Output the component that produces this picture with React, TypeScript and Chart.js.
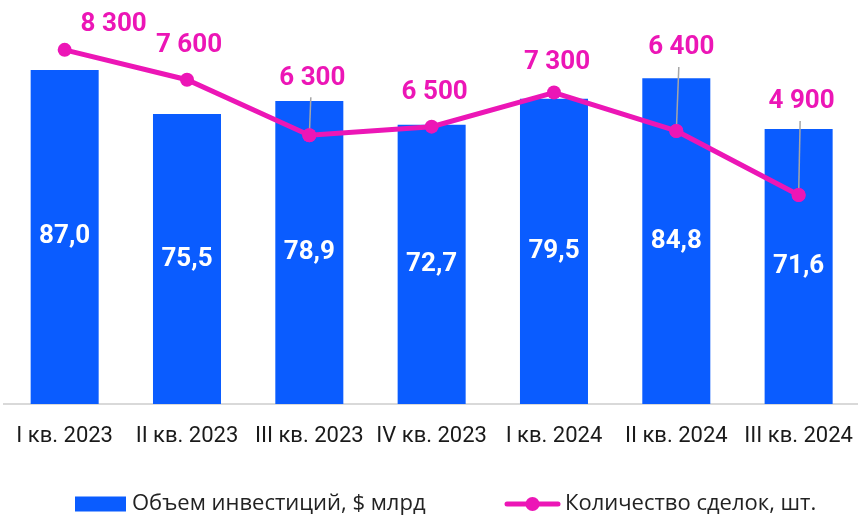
import React, { useEffect, useRef } from "react";
import { Chart, registerables } from "chart.js";

Chart.register(...registerables);

const categories = [
  "I кв. 2023",
  "II кв. 2023",
  "III кв. 2023",
  "IV кв. 2023",
  "I кв. 2024",
  "II кв. 2024",
  "III кв. 2024",
];
const investmentVolume = [87.0, 75.5, 78.9, 72.7, 79.5, 84.8, 71.6];
const dealCount = [8300, 7600, 6300, 6500, 7300, 6400, 4900];
const barLabel = "Объем инвестиций, $ млрд";
const lineLabel = "Количество сделок, шт.";

const BLUE = "#0a5cff";
const MAGENTA = "#ec16b6";
const LEADER = "#a6a6a6";

// label placement (offset from point, in px) and leader lines
const lineLabelOffsets: [number, number][] = [
  [49, -25],
  [2, -34],
  [3, -57],
  [3, -34],
  [3, -30],
  [5, -83],
  [3, -93],
];
const leaderFlags = [false, false, true, false, false, true, true];

const fmtBar = (v: number) => v.toFixed(1).replace(".", ",");
const fmtLine = (v: number) =>
  String(Math.round(v)).replace(/\B(?=(\d{3})+(?!\d))/g, " ");

const labelsPlugin = {
  id: "valueLabels",
  afterDatasetsDraw(chart: any) {
    const ctx = chart.ctx;
    ctx.save();
    const barMeta = chart.getDatasetMeta(1);
    ctx.font = "bold 26px Roboto";
    ctx.fillStyle = "#ffffff";
    ctx.textAlign = "center";
    ctx.textBaseline = "middle";
    barMeta.data.forEach((el: any, i: number) => {
      const v = chart.data.datasets[1].data[i];
      ctx.fillText(fmtBar(v), el.x, (el.y + el.base) / 2);
    });
    const lineMeta = chart.getDatasetMeta(0);
    lineMeta.data.forEach((el: any, i: number) => {
      const v = chart.data.datasets[0].data[i];
      const [dx, dy] = lineLabelOffsets[i];
      const lx = el.x + dx;
      const ly = el.y + dy;
      if (leaderFlags[i]) {
        ctx.strokeStyle = LEADER;
        ctx.lineWidth = 1.5;
        ctx.beginPath();
        ctx.moveTo(el.x + dx * 0.5, ly + 19);
        ctx.lineTo(el.x, el.y);
        ctx.stroke();
        ctx.fillStyle = MAGENTA;
        ctx.beginPath();
        ctx.arc(el.x, el.y, 7, 0, Math.PI * 2);
        ctx.fill();
      }
      ctx.font = "bold 26px Roboto";
      ctx.fillStyle = MAGENTA;
      ctx.textAlign = "center";
      ctx.textBaseline = "middle";
      ctx.fillText(fmtLine(v), lx, ly);
    });
    ctx.restore();
  },
};

const legendPlugin = {
  id: "customLegend",
  afterDraw(chart: any) {
    const ctx = chart.ctx;
    const cy = 504;
    ctx.save();
    ctx.font = "22px 'Open Sans'";
    ctx.textAlign = "left";
    ctx.textBaseline = "middle";
    ctx.fillStyle = BLUE;
    ctx.fillRect(75, cy - 7.5, 51, 15);
    ctx.fillStyle = "#222222";
    ctx.fillText(chart.data.datasets[1].label, 132, cy);
    ctx.strokeStyle = MAGENTA;
    ctx.lineWidth = 5;
    ctx.lineCap = "round";
    ctx.beginPath();
    ctx.moveTo(507, cy);
    ctx.lineTo(558, cy);
    ctx.stroke();
    ctx.fillStyle = MAGENTA;
    ctx.beginPath();
    ctx.arc(532.5, cy, 7, 0, Math.PI * 2);
    ctx.fill();
    ctx.fillStyle = "#222222";
    ctx.fillText(chart.data.datasets[0].label, 565, cy);
    ctx.restore();
  },
};

export default function App() {
  const ref = useRef<HTMLCanvasElement | null>(null);
  useEffect(() => {
    if (!ref.current) return;
    const chart = new Chart(ref.current, {
      type: "bar",
      data: {
        labels: categories,
        datasets: [
          {
            type: "line",
            label: lineLabel,
            data: dealCount,
            yAxisID: "y1",
            borderColor: MAGENTA,
            backgroundColor: MAGENTA,
            borderWidth: 5,
            pointRadius: 7,
            pointBackgroundColor: MAGENTA,
            pointBorderWidth: 0,
            tension: 0,
            order: 0,
          } as any,
          {
            type: "bar",
            label: barLabel,
            data: investmentVolume,
            yAxisID: "y",
            backgroundColor: BLUE,
            borderWidth: 0,
            barPercentage: 0.556,
            categoryPercentage: 1,
            order: 1,
          },
        ],
      },
      options: {
        responsive: false,
        animation: false,
        layout: {
          autoPadding: false,
          padding: { left: 3.5, right: 2.2, top: 20, bottom: 0 },
        },
        plugins: {
          legend: { display: false },
          tooltip: { enabled: false },
        },
        scales: {
          x: {
            grid: { display: false, drawTicks: false },
            border: { display: true, color: "#d9d9d9", width: 2 },
            ticks: {
              color: "#1a1a1a",
              font: { family: "Roboto", size: 22 },
              padding: 19,
              maxRotation: 0,
              autoSkip: false,
            },
            afterFit(scale: any) {
              scale.height = 113;
              scale.paddingLeft = 0;
              scale.paddingRight = 0;
            },
          },
          y: { display: false, min: 0, max: 100 },
          y1: { display: false, min: 0, max: 9000 },
        },
      },
      plugins: [labelsPlugin, legendPlugin],
    });
    return () => chart.destroy();
  }, []);
  return (
    <div
      style={{
        position: "fixed",
        left: 0,
        top: 0,
        width: 858,
        height: 517,
        overflow: "hidden",
        background: "#ffffff",
      }}
    >
      <canvas ref={ref} width={862} height={517} style={{ display: "block" }} />
    </div>
  );
}
